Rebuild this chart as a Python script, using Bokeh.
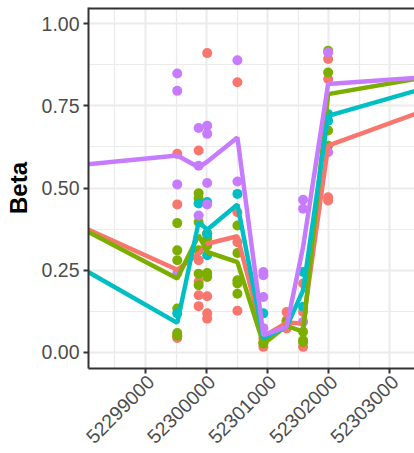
from bokeh.plotting import figure
from bokeh.models import FixedTicker, Range1d, Span, LinearAxis
from bokeh.embed import file_html
from bokeh.resources import INLINE
import math

# ---- data ----
groups = ["g1", "g2", "g3", "g4"]
colors = ["#F8766D", "#7CAE00", "#00BFC4", "#C77CFF"]

# CpG site positions
site_A = 52299520
site_B = 52299870
site_C = 52300010
site_D = 52300505
site_E = 52300930
site_G = 52301310
site_H = 52301580
site_I = 52301990
left_out = 52297800
right_out = 52303700

red_x = [site_A]*4 + [site_B]*5 + [site_C]*5 + [site_D]*4 + [site_E]*2 + [site_G]*3 + [site_H]*3 + [site_I]*4
red_y = [0.604, 0.45, 0.047, 0.043,
         0.614, 0.28, 0.214, 0.173, 0.14,
         0.911, 0.361, 0.17, 0.118, 0.102,
         0.822, 0.426, 0.335, 0.126,
         0.042, 0.016,
         0.122, 0.097, 0.072,
         0.209, 0.122, 0.016,
         0.893, 0.832, 0.472, 0.462]

green_x = [site_A]*6 + [site_B]*6 + [site_C]*5 + [site_D]*5 + [site_E]*2 + [site_G]*1 + [site_H]*3 + [site_I]*4
green_y = [0.393, 0.31, 0.28, 0.133, 0.058, 0.05,
           0.484, 0.468, 0.396, 0.31, 0.239, 0.204,
           0.362, 0.347, 0.325, 0.241, 0.229,
           0.386, 0.302, 0.219, 0.209, 0.178,
           0.026, 0.03,
           0.092,
           0.062, 0.036, 0.031,
           0.918, 0.852, 0.675, 0.629]

cyan_x = [site_A] + [site_B] + [site_C]*3 + [site_D] + [site_E] + [site_H]*2 + [site_I]*2
cyan_y = [0.118,
          0.453,
          0.457, 0.36, 0.295,
          0.482,
          0.118,
          0.244, 0.138,
          0.725, 0.705]

purple_x = [site_A]*4 + [site_B]*3 + [site_C]*4 + [site_D]*2 + [site_E]*4 + [site_H]*3 + [site_I]*2
purple_y = [0.849, 0.796, 0.511, 0.24,
            0.683, 0.568, 0.416,
            0.69, 0.665, 0.515, 0.45,
            0.889, 0.52,
            0.244, 0.234, 0.168, 0.073,
            0.464, 0.437, 0.092,
            0.913, 0.609]

line_x = [left_out, site_A, site_B, site_C, site_D, site_E, site_G, site_H, site_I, right_out]
red_line = [0.395, 0.251, 0.30, 0.33, 0.353, 0.047, 0.09, 0.087, 0.629, 0.745]
green_line = [0.392, 0.224, 0.356, 0.305, 0.274, 0.025, 0.08, 0.062, 0.786, 0.841]
cyan_line = [0.272, 0.089, 0.396, 0.373, 0.45, 0.042, 0.077, 0.188, 0.72, 0.811]
purple_line = [0.568, 0.599, 0.563, 0.58, 0.654, 0.052, 0.077, 0.32, 0.817, 0.839]

x_ticks = [52299000, 52300000, 52301000, 52302000, 52303000]
x_tick_labels = ["52299000", "52300000", "52301000", "52302000", "52303000"]
x_minor = [52298500, 52299500, 52300500, 52301500, 52302500, 52303500]
y_ticks = [0.0, 0.25, 0.5, 0.75, 1.0]
y_tick_labels = ["0.00", "0.25", "0.50", "0.75", "1.00"]
y_minor = [0.125, 0.375, 0.625, 0.875]

x_lo, x_hi = 52298067, 52303404
y_lo, y_hi = -0.05, 1.05
label_shift = 85  # x-units; nudges rotated labels right like ggplot hjust=1

# ---- figure ----
p = figure(width=414, height=453, output_backend="svg", toolbar_location=None,
           x_range=Range1d(x_lo, x_hi), y_range=Range1d(y_lo, y_hi),
           min_border_left=88, min_border_right=0, min_border_top=7, min_border_bottom=85)
p.outline_line_color = None
p.background_fill_color = "white"
p.border_fill_color = "white"
p.extra_x_ranges = {"lab": Range1d(x_lo - label_shift, x_hi - label_shift)}

for xs, ys, c in [(red_x, red_y, colors[0]), (green_x, green_y, colors[1]),
                  (cyan_x, cyan_y, colors[2]), (purple_x, purple_y, colors[3])]:
    p.scatter(xs, ys, size=10, color=c, line_color=None)

for ys, c in [(red_line, colors[0]), (green_line, colors[1]),
              (cyan_line, colors[2]), (purple_line, colors[3])]:
    p.line(line_x, ys, line_width=4.5, color=c)

axis_color = "#333333"
label_color = "#4D4D4D"

xa = p.xaxis[0]
xa.ticker = FixedTicker(ticks=x_ticks, minor_ticks=x_minor)
xa.major_label_overrides = {t: "" for t in x_ticks}
xa.major_label_standoff = 0
ya = p.yaxis[0]
ya.ticker = FixedTicker(ticks=y_ticks, minor_ticks=y_minor)
ya.major_label_overrides = {t: l for t, l in zip(y_ticks, y_tick_labels)}
ya.major_label_text_font_size = "19.5px"
ya.major_label_standoff = 4
ya.axis_label = "Beta"
ya.axis_label_text_font_style = "bold"
ya.axis_label_text_font_size = "24px"
ya.axis_label_text_color = "black"
ya.axis_label_text_font = "Liberation Sans"
ya.axis_label_standoff = 7

for ax in (xa, ya):
    ax.axis_line_color = axis_color
    ax.axis_line_width = 2
    ax.major_tick_line_color = axis_color
    ax.major_tick_line_width = 2
    ax.major_tick_in = 0
    ax.major_tick_out = 5
    ax.minor_tick_line_color = None
    ax.major_label_text_font = "Liberation Sans"
    ax.major_label_text_color = label_color

# rotated tick labels on their own axis row
lab_axis = LinearAxis(x_range_name="lab", ticker=FixedTicker(ticks=x_ticks),
                      major_label_overrides={t: l for t, l in zip(x_ticks, x_tick_labels)},
                      major_label_orientation=math.pi / 4,
                      major_label_text_font="Liberation Sans",
                      major_label_text_font_size="19.5px",
                      major_label_text_color=label_color,
                      major_label_standoff=5,
                      axis_line_color=None, major_tick_line_color=None,
                      minor_tick_line_color=None, major_tick_in=0, major_tick_out=0,
                      minor_tick_in=0, minor_tick_out=0)
p.add_layout(lab_axis, "below")

# top panel border
p.add_layout(Span(location=y_hi, dimension="width", line_color=axis_color, line_width=4))

p.xgrid.ticker = FixedTicker(ticks=x_ticks, minor_ticks=x_minor)
p.ygrid.ticker = FixedTicker(ticks=y_ticks, minor_ticks=y_minor)
for g in (p.xgrid[0], p.ygrid[0]):
    g.grid_line_color = "#EBEBEB"
    g.grid_line_width = 2
    g.minor_grid_line_color = "#EBEBEB"
    g.minor_grid_line_width = 1.2

open("out.html", "w").write(file_html(p, INLINE))
